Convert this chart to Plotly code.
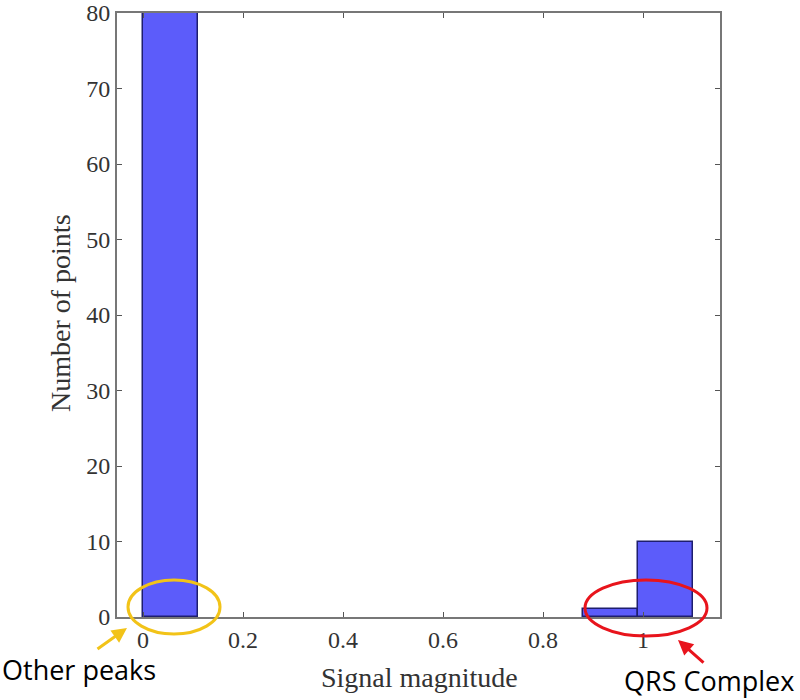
import plotly.graph_objects as go

# histogram bins (signal magnitude) and counts
bin_edges = [0.0, 0.11, 0.22, 0.33, 0.44, 0.55, 0.66, 0.77, 0.88, 0.99, 1.10]
counts = [89, 0, 0, 0, 0, 0, 0, 0, 1, 10]
x_ticks = [0, 0.2, 0.4, 0.6, 0.8, 1]
x_ticktext = ["0", "0.2", "0.4", "0.6", "0.8", "1"]
y_ticks = [0, 10, 20, 30, 40, 50, 60, 70, 80]

# only draw non-empty bins
bins = [(a, b, c) for a, b, c in zip(bin_edges[:-1], bin_edges[1:], counts) if c > 0]
centers = [(a + b) / 2 for a, b, c in bins]
widths = [b - a for a, b, c in bins]
heights = [c for a, b, c in bins]

W, H = 800, 700
L, R, T, B = 117, 720, 13, 617  # plot area in pixels


def px(x):
    return (x - L) / (R - L)


def py(y):
    return (B - y) / (B - T)


fig = go.Figure()
fig.add_trace(go.Bar(x=centers, y=heights, width=widths,
                     marker=dict(color="rgb(92,92,250)",
                                 line=dict(color="rgb(30,30,110)", width=1.5))))

tick_font = dict(family="Liberation Serif", size=24, color="#333")
title_font = dict(family="Liberation Serif", size=28, color="#333")
fig.update_xaxes(range=[-0.052, 1.154], tickvals=x_ticks, ticktext=x_ticktext,
                 ticks="inside", ticklen=5, tickcolor="#555", mirror="ticks",
                 showline=True, linecolor="#777", linewidth=2, showgrid=False,
                 zeroline=False, tickfont=tick_font)
fig.update_yaxes(range=[0, 80], tickvals=y_ticks,
                 ticks="inside", ticklen=5, tickcolor="#555", mirror="ticks",
                 showline=True, linecolor="#777", linewidth=2, showgrid=False,
                 zeroline=False, tickfont=tick_font)

# axis titles
fig.add_annotation(xref="paper", yref="paper", x=px(419), y=py(677),
                   xanchor="center", yanchor="middle", text="Signal magnitude",
                   showarrow=False, font=title_font)
fig.add_annotation(xref="paper", yref="paper", x=px(60), y=py(313),
                   xanchor="center", yanchor="middle", text="Number of points",
                   textangle=-90, showarrow=False, font=title_font)


def ellipse(cx, cy, rx, ry, color):
    fig.add_shape(type="circle", xref="paper", yref="paper",
                  x0=px(cx - rx), x1=px(cx + rx), y0=py(cy + ry), y1=py(cy - ry),
                  line=dict(color=color, width=3), layer="above")


ellipse(174, 607, 46, 27, "#f2c318")
ellipse(646, 608, 61, 28, "#e8141c")

# arrows
fig.add_annotation(xref="paper", yref="paper", x=px(127), y=py(628),
                   axref="pixel", ayref="pixel", ax=-31, ay=22, text="",
                   showarrow=True, arrowhead=2, arrowsize=1, arrowwidth=3,
                   arrowcolor="#f2c318")
fig.add_annotation(xref="paper", yref="paper", x=px(678), y=py(640),
                   axref="pixel", ayref="pixel", ax=27, ay=24, text="",
                   showarrow=True, arrowhead=2, arrowsize=1, arrowwidth=3,
                   arrowcolor="#e8141c")

label_font = dict(family="Open Sans", size=27, color="black")
fig.add_annotation(xref="paper", yref="paper", x=px(1), y=py(669),
                   xanchor="left", yanchor="middle", text="Other peaks",
                   showarrow=False, font=label_font, borderpad=0)
fig.add_annotation(xref="paper", yref="paper", x=px(795), y=py(680),
                   xanchor="right", yanchor="middle", text="QRS Complex",
                   showarrow=False, font=label_font, borderpad=0)

fig.update_layout(width=W, height=H, showlegend=False, bargap=0,
                  plot_bgcolor="white", paper_bgcolor="white",
                  margin=dict(l=L, r=W - R, t=T, b=H - B, autoexpand=False))

# drop the page's default body margin so the figure fills the window
fig.write_html("out.html", config={"displayModeBar": False},
               post_script="document.body.style.margin = '0';")
